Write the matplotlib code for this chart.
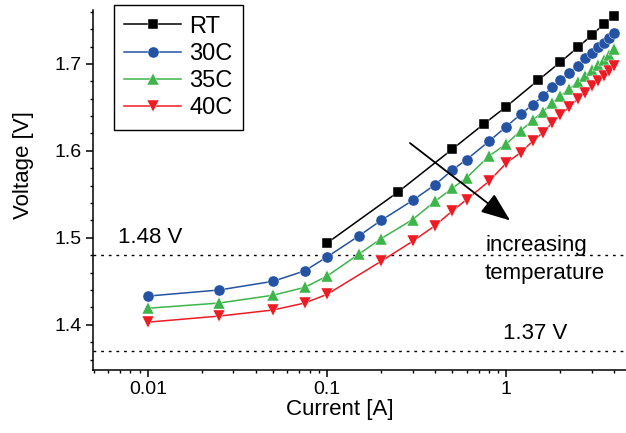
import matplotlib
matplotlib.use('Agg')
import matplotlib.pyplot as plt
from matplotlib.patches import FancyArrowPatch
from matplotlib.ticker import MultipleLocator, FixedLocator, NullFormatter

plt.rcParams['font.family'] = ['Liberation Sans', 'DejaVu Sans']

# Current [A] and voltage [V]
rt_current = [0.1, 0.25, 0.5, 0.75, 1.0, 1.5, 2.0, 2.5, 3.0, 3.5, 4.0]
rt_voltage = [1.494, 1.553, 1.602, 1.631, 1.651, 1.681, 1.702, 1.719, 1.733, 1.746, 1.755]

c30_current = [0.01, 0.025, 0.05, 0.075, 0.1, 0.15, 0.2, 0.3, 0.4, 0.5, 0.6, 0.8, 1.0,
               1.2, 1.4, 1.6, 1.8, 2.0, 2.25, 2.5, 2.75, 3.0, 3.25, 3.5, 3.75, 4.0]
c30_voltage = [1.433, 1.440, 1.450, 1.462, 1.478, 1.502, 1.520, 1.543, 1.561, 1.578, 1.590,
               1.611, 1.628, 1.642, 1.653, 1.663, 1.673, 1.681, 1.690, 1.698, 1.707, 1.712,
               1.719, 1.724, 1.730, 1.735]

c35_current = c30_current
c35_voltage = [1.419, 1.425, 1.434, 1.443, 1.456, 1.481, 1.499, 1.521, 1.542, 1.557, 1.569,
               1.594, 1.608, 1.623, 1.635, 1.645, 1.655, 1.663, 1.671, 1.679, 1.686, 1.693,
               1.699, 1.705, 1.710, 1.717]

c40_current = [0.01, 0.025, 0.05, 0.075, 0.1, 0.2, 0.3, 0.4, 0.5, 0.6, 0.8, 1.0,
               1.2, 1.4, 1.6, 1.8, 2.0, 2.25, 2.5, 2.75, 3.0, 3.25, 3.5, 3.75, 4.0]
c40_voltage = [1.403, 1.410, 1.417, 1.425, 1.435, 1.473, 1.496, 1.514, 1.531, 1.544, 1.565,
               1.586, 1.598, 1.611, 1.621, 1.632, 1.641, 1.651, 1.660, 1.667, 1.675, 1.680,
               1.686, 1.692, 1.698]

ref_levels = [1.48, 1.37]
ref_labels = ['1.48 V', '1.37 V']

fig = plt.figure(figsize=(6.26, 4.33), dpi=100)
ax = fig.add_axes([0.1486, 0.1455, 0.8514, 0.8314])

for v in ref_levels:
    ax.axhline(v, color='black', lw=1.0, ls=(0, (2, 3.5)), zorder=1)

ax.plot(rt_current, rt_voltage, color='black', marker='s', ms=6.5, lw=1.1,
        mec='white', mew=0.3, label='RT', zorder=3)
ax.plot(c30_current, c30_voltage, color='#2453a3', marker='o', ms=8, lw=1.1,
        mec='white', mew=0.3, label='30C', zorder=3)
ax.plot(c35_current, c35_voltage, color='#3db54a', marker='^', ms=8.5, lw=1.1,
        mec='white', mew=0.3, label='35C', zorder=3)
ax.plot(c40_current, c40_voltage, color='#ed1c24', marker='v', ms=8.5, lw=1.1,
        mec='white', mew=0.3, label='40C', zorder=3)

ax.set_xscale('log')
ax.set_xlim(0.00495, 4.65)
ax.set_ylim(1.348, 1.762)

ax.xaxis.set_major_locator(FixedLocator([0.01, 0.1, 1]))
ax.set_xticklabels(['0.01', '0.1', '1'])
ax.xaxis.set_minor_formatter(NullFormatter())
ax.yaxis.set_major_locator(MultipleLocator(0.1))
ax.yaxis.set_minor_locator(MultipleLocator(0.02))

ax.spines['top'].set_visible(False)
ax.spines['right'].set_visible(False)
for s in ['left', 'bottom']:
    ax.spines[s].set_linewidth(1.1)
ax.tick_params(which='major', direction='out', length=5, width=1.1, labelsize=14, pad=3)
ax.tick_params(which='minor', direction='out', length=2.5, width=1.0)

ax.set_xlabel('Current [A]', fontsize=16)
ax.set_ylabel('Voltage [V]', fontsize=16)
ax.yaxis.set_label_coords(-0.11, 0.57)
ax.xaxis.set_label_coords(0.463, -0.08)

ax.text(0.00683, 1.494, ref_labels[0], fontsize=16, ha='left', va='baseline')
ax.text(0.958, 1.3833, ref_labels[1], fontsize=16, ha='left', va='baseline')
ax.text(0.761, 1.4848, 'increasing', fontsize=16, ha='left', va='baseline')
ax.text(0.761, 1.4531, 'temperature', fontsize=16, ha='left', va='baseline')

arrow = FancyArrowPatch((0.290, 1.609), (1.049, 1.520),
                        arrowstyle='-|>,head_length=18,head_width=7',
                        mutation_scale=1, color='black', lw=1.3,
                        shrinkA=0, shrinkB=0, zorder=4)
ax.add_patch(arrow)

leg = ax.legend(loc='upper left', bbox_to_anchor=(0.039, 1.014), borderaxespad=0,
                fontsize=17, handlelength=2.4, handletextpad=0.35, labelspacing=0.22,
                borderpad=0.45, fancybox=False, framealpha=1, edgecolor='black')
leg.get_frame().set_linewidth(1.0)

fig.savefig('out.png', dpi=100)
